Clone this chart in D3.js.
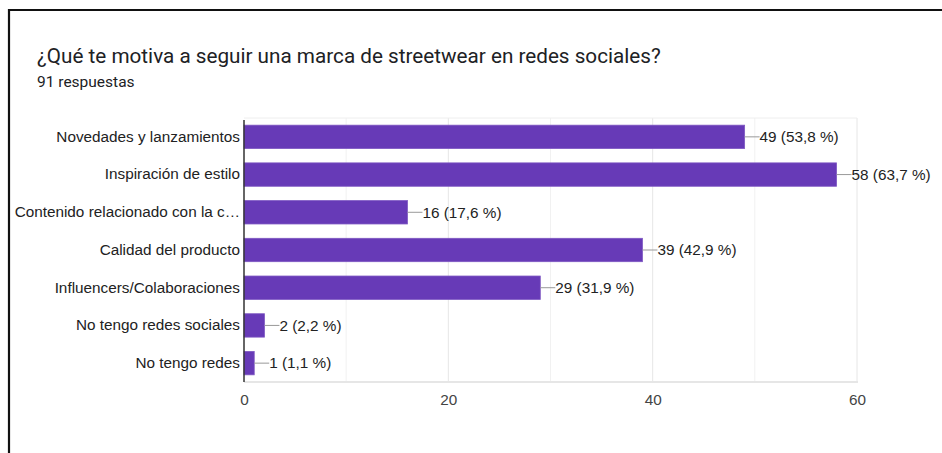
<!DOCTYPE html>
<html>
<head>
<meta charset="utf-8">
<script src="https://cdn.jsdelivr.net/npm/d3@7/dist/d3.min.js"></script>
<style>
  html, body { margin: 0; padding: 0; background: #fff; }
  svg { display: block; }
</style>
</head>
<body>
<svg id="chart" width="942" height="453"></svg>
<script>
// Survey answers: "¿Qué te motiva a seguir una marca de streetwear en redes sociales?"
const categories = [
  "Novedades y lanzamientos",
  "Inspiración de estilo",
  "Contenido relacionado con la c…",
  "Calidad del producto",
  "Influencers/Colaboraciones",
  "No tengo redes sociales",
  "No tengo redes"
];
const counts = [49, 58, 16, 39, 29, 2, 1];
const percentLabels = ["53,8 %", "63,7 %", "17,6 %", "42,9 %", "31,9 %", "2,2 %", "1,1 %"];
const xTicks = [0, 20, 40, 60];
const minorTicks = [10, 30, 50];
const totalResponses = 91;

const svg = d3.select("#chart");

// Card frame (top and left edges)
svg.append("line").attr("x1", 9).attr("x2", 942).attr("y1", 10).attr("y2", 10)
  .attr("stroke", "#111").attr("stroke-width", 2.2);
svg.append("line").attr("x1", 9).attr("x2", 9).attr("y1", 9).attr("y2", 453)
  .attr("stroke", "#111").attr("stroke-width", 2.2);

// Heading
svg.append("text").attr("x", 37).attr("y", 63)
  .attr("font-family", "Roboto, Arial, sans-serif").attr("font-size", 20.7)
  .attr("fill", "#202124")
  .text("¿Qué te motiva a seguir una marca de streetwear en redes sociales?");
svg.append("text").attr("x", 37).attr("y", 87)
  .attr("font-family", "Roboto, Arial, sans-serif").attr("font-size", 15.5)
  .attr("fill", "#202124")
  .text(totalResponses + " respuestas");

const plot = { left: 244, right: 857, top: 118, bottom: 382 };

const x = d3.scaleLinear().domain([0, 60]).range([plot.left, plot.right]);
const y = d3.scaleBand().domain(categories).range([plot.top, plot.bottom])
  .paddingInner(0.38).paddingOuter(0.19);

const font = "Liberation Sans, Arial, sans-serif";
const fs = 15.3;

// Gridlines
svg.append("g").selectAll("line").data(minorTicks).join("line")
  .attr("x1", d => x(d)).attr("x2", d => x(d))
  .attr("y1", plot.top).attr("y2", plot.bottom)
  .attr("stroke", "#f1f1f1").attr("stroke-width", 1);
svg.append("g").selectAll("line").data(xTicks.slice(1)).join("line")
  .attr("x1", d => x(d)).attr("x2", d => x(d))
  .attr("y1", plot.top).attr("y2", plot.bottom)
  .attr("stroke", "#e6e6e6").attr("stroke-width", 1);
// top and bottom frame of the plot
svg.append("line").attr("x1", plot.left).attr("x2", plot.right)
  .attr("y1", plot.top).attr("y2", plot.top).attr("stroke", "#eeeeee");
svg.append("line").attr("x1", plot.left).attr("x2", plot.right + 1)
  .attr("y1", plot.bottom).attr("y2", plot.bottom).attr("stroke", "#e6e6e6").attr("stroke-width", 2);

// Bottom axis labels
const xAxis = d3.axisBottom(x).tickValues(xTicks).tickSize(0).tickPadding(12);
const gx = svg.append("g").attr("transform", `translate(0,${plot.bottom})`).call(xAxis);
gx.select(".domain").remove();
gx.selectAll("text").attr("font-family", font).attr("font-size", fs).attr("fill", "#444");

// Bars
const rows = categories.map((c, i) => ({ cat: c, v: counts[i], pct: percentLabels[i] }));
svg.append("g").selectAll("rect").data(rows).join("rect")
  .attr("x", x(0)).attr("y", d => y(d.cat))
  .attr("width", d => x(d.v) - x(0)).attr("height", y.bandwidth())
  .attr("fill", "#673ab7").attr("stroke", "#7e57c2").attr("stroke-width", 0.8);

// Left axis labels
const yAxis = d3.axisLeft(y).tickSize(0).tickPadding(4);
const gy = svg.append("g").attr("transform", `translate(${plot.left},0)`).call(yAxis);
gy.select(".domain").remove();
gy.selectAll("text").attr("font-family", font).attr("font-size", fs).attr("fill", "#222");

// Baseline axis line
svg.append("line").attr("x1", plot.left).attr("x2", plot.left)
  .attr("y1", plot.top + 2).attr("y2", plot.bottom)
  .attr("stroke", "#333").attr("stroke-width", 1.5);

// Value annotations with leader lines
const ann = svg.append("g");
ann.selectAll("line").data(rows).join("line")
  .attr("x1", d => x(d.v)).attr("x2", d => x(d.v) + 15)
  .attr("y1", d => y(d.cat) + y.bandwidth() / 2).attr("y2", d => y(d.cat) + y.bandwidth() / 2)
  .attr("stroke", "#999").attr("stroke-width", 1);
ann.selectAll("text").data(rows).join("text")
  .attr("x", d => x(d.v) + 15)
  .attr("y", d => y(d.cat) + y.bandwidth() / 2)
  .attr("dy", "0.35em")
  .attr("font-family", font).attr("font-size", fs).attr("fill", "#222")
  .text(d => `${d.v} (${d.pct})`);
</script>
</body>
</html>
